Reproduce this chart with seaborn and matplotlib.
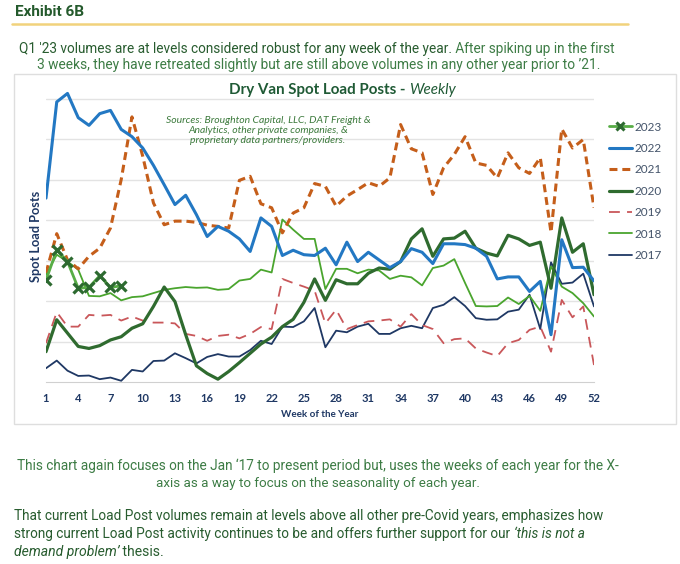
import matplotlib
matplotlib.use("Agg")
import numpy as np
import pandas as pd
import matplotlib.pyplot as plt
import seaborn as sns
from matplotlib.lines import Line2D
from matplotlib.patches import Rectangle

weeks = list(range(1, 53))
weeks23 = list(range(1, 9))

y2023 = [2.52, 3.27, 2.98, 2.32, 2.34, 2.63, 2.34, 2.38]
y2022 = [4.55, 6.93, 7.14, 6.54, 6.35, 6.64, 6.72, 6.25, 6.07, 5.79, 5.36, 4.88, 4.39, 4.62, 4.14, 3.60, 3.85,
         3.73, 3.54, 3.23, 4.06, 3.85, 3.13, 3.26, 3.15, 3.13, 3.31, 2.90, 3.46, 2.98, 3.21, 3.02, 2.83, 2.98,
         3.30, 3.21, 2.93, 3.42, 3.42, 3.40, 3.31, 3.11, 2.55, 2.60, 2.60, 2.24, 2.49, 1.17, 3.52, 2.83, 2.84, 2.50]
y2021 = [2.70, 3.67, 3.02, 2.80, 3.11, 3.31, 3.81, 5.01, 6.56, 5.59, 4.43, 3.89, 3.98, 3.98, 3.95, 3.88, 3.85,
         3.81, 4.99, 5.09, 4.41, 4.31, 3.69, 4.18, 4.31, 4.91, 4.84, 4.35, 4.60, 4.76, 4.93, 4.84, 5.05, 6.37,
         5.77, 5.67, 4.64, 5.30, 5.63, 6.07, 5.42, 5.36, 5.05, 5.67, 5.30, 5.16, 5.55, 3.70, 6.26, 5.79, 6.00, 4.31]
y2020 = [0.75, 1.54, 1.21, 0.88, 0.83, 0.90, 1.04, 1.12, 1.33, 1.44, 1.87, 2.35, 1.99, 1.17, 0.40, 0.21, 0.07,
         0.26, 0.48, 0.71, 0.94, 1.11, 1.37, 1.55, 1.97, 2.55, 2.02, 2.53, 2.43, 2.43, 2.69, 2.82, 2.79, 2.98,
         3.54, 3.79, 3.11, 3.54, 3.56, 3.73, 3.31, 3.19, 3.12, 3.63, 3.54, 3.38, 3.46, 2.32, 4.06, 3.21, 3.42, 2.16]
y2019 = [0.96, 1.73, 1.37, 1.37, 1.66, 1.64, 1.66, 1.52, 1.62, 1.52, 1.47, 1.47, 1.45, 1.19, 1.14, 1.02, 1.14,
         1.17, 1.08, 1.19, 1.36, 1.31, 2.55, 2.45, 2.36, 2.26, 1.45, 1.79, 1.31, 1.41, 1.50, 1.52, 1.55, 1.37,
         1.68, 1.41, 1.31, 0.96, 1.06, 1.08, 0.83, 0.73, 0.64, 0.96, 1.04, 1.29, 1.37, 0.75, 2.03, 1.60, 1.87, 0.42]
y2018 = [2.65, 3.15, 2.98, 2.78, 2.13, 2.12, 2.20, 2.02, 2.10, 2.12, 2.20, 2.28, 2.32, 2.35, 2.33, 2.34, 2.28,
         2.30, 2.51, 2.55, 2.78, 2.71, 4.02, 3.77, 3.54, 3.54, 2.30, 2.80, 2.80, 2.69, 2.78, 2.76, 2.55, 2.63,
         2.59, 2.39, 2.82, 2.88, 3.04, 2.45, 1.88, 1.87, 1.88, 2.09, 1.93, 2.13, 1.76, 2.86, 2.36, 2.20, 1.95, 1.62]
y2017 = [0.34, 0.53, 0.28, 0.15, 0.16, 0.07, 0.11, 0.03, 0.30, 0.26, 0.52, 0.53, 0.71, 0.59, 0.46, 0.62, 0.69,
         0.63, 0.63, 0.79, 1.02, 0.94, 1.37, 1.36, 1.50, 1.83, 0.86, 1.27, 1.23, 1.37, 1.44, 1.19, 1.19, 1.33,
         1.39, 1.33, 1.83, 1.91, 2.10, 1.88, 1.58, 1.54, 1.55, 1.74, 1.79, 2.16, 1.31, 2.96, 2.43, 2.46, 2.68, 1.87]

xtick_weeks = list(range(1, 53, 3))

sns.set_style("white")
plt.rcParams['font.family'] = ['Lato', 'DejaVu Sans']
BODY = ['Roboto', 'DejaVu Sans']
DARK = '#285c2f'
LIGHT = '#3d7c45'
NAVY = '#1f3864'

W, H = 680, 564
fig = plt.figure(figsize=(6.8, 5.64), dpi=100)
renderer = fig.canvas.get_renderer()


def px(x, y):
    return x / W, 1 - y / H


def fit_line(x0, x1, y, pieces, fs=10):
    # write pieces one after another from x0, sized so the line ends at x1
    texts = []
    for txt, kw in pieces:
        texts.append(fig.text(0, 1 - y / H, txt, ha='left', va='center', fontsize=fs,
                              family=BODY, **kw))
    total = sum(t.get_window_extent(renderer).width for t in texts)
    fs2 = fs * (x1 - x0) / total
    x = x0
    for t in texts:
        t.set_fontsize(fs2)
        t.set_x(x / W)
        x += t.get_window_extent(renderer).width


# chart frame
fig.patches.append(Rectangle(px(14, 424), (676 - 14) / W, (424 - 74) / H, transform=fig.transFigure,
                             facecolor='none', edgecolor='#dedede', lw=1.0, zorder=-5))
# yellow rule under heading
fig.add_artist(Line2D([12 / W, 628 / W], [1 - 24 / H] * 2, color='#f1d27c', lw=1.8))

ax = fig.add_axes([46 / W, 1 - 382 / H, (594 - 46) / W, (382 - 91) / H])

series = [
    ('2017', y2017, dict(color='#1f3864', lw=1.3)),
    ('2018', y2018, dict(color='#4aa52e', lw=1.3)),
    ('2019', y2019, dict(color='#c9575a', lw=1.3, linestyle=(0, (6, 4)))),
    ('2020', y2020, dict(color='#2f6b2f', lw=2.3)),
    ('2021', y2021, dict(color='#c55e1a', lw=2.2, linestyle=(0, (2.6, 1.6)))),
    ('2022', y2022, dict(color='#2378c3', lw=2.2)),
]
for name, vals, kw in series:
    sns.lineplot(x=weeks, y=vals, ax=ax, **kw)
sns.lineplot(x=weeks23, y=y2023, ax=ax, color='#58ad46', lw=2.0, marker='x', ms=7.5,
             mew=2.3, mec='#2d6a30')

ax.set_xlim(1, 52)
ax.set_ylim(0, 7.2)
ax.set_yticks(range(1, 8))
ax.set_yticklabels([])
ax.tick_params(axis='y', length=0)
ax.yaxis.grid(True, color='#e3e3e3', lw=1.0)
ax.set_axisbelow(True)
for s in ['top', 'right', 'left']:
    ax.spines[s].set_visible(False)
ax.spines['bottom'].set_color('#d0d0d0')
ax.set_xticks(xtick_weeks)
ax.set_xticks(weeks, minor=True)
ax.tick_params(axis='x', which='both', length=4, color='#bfbfbf', width=0.8,
               labelsize=8, labelcolor=NAVY, pad=4)
for lab in ax.get_xticklabels():
    lab.set_fontweight('bold')
ax.set_xlabel('Week of the Year', fontsize=7.1, fontweight='bold', color=NAVY, labelpad=4)
ax.set_ylabel('Spot Load Posts', fontsize=9.2, fontweight='bold', color=NAVY)
ax.yaxis.set_label_coords(-0.007, 0.5)
ax.patch.set_alpha(0)

# legend
handles = [Line2D([], [], color='#58ad46', lw=2.0, marker='x', ms=6, mew=2.2, mec='#2d6a30')]
for name, vals, kw in reversed(series):
    handles.append(Line2D([], [], **kw))
labels = ['2023', '2022', '2021', '2020', '2019', '2018', '2017']
fig.legend(handles, labels, loc='upper left', bbox_to_anchor=px(598, 111), frameon=False,
           fontsize=8.5, labelcolor='#44546a', handlelength=2.0, handletextpad=0.2,
           labelspacing=0.88)

# chart title and sources
fig.text(*px(409, 90.5), 'Dry Van Spot Load Posts - ', ha='right', va='center', fontsize=10.9,
         fontweight='bold', color='#1f5a35')
fig.text(*px(409, 90.5), 'Weekly', ha='left', va='center', fontsize=10.9, style='italic',
         color='#1f5a35')
fig.text(*px(268, 130.5), 'Sources: Broughton Capital, LLC, DAT Freight &\nAnalytics, other private companies, &\n'
         'proprietary data partners/providers.', ha='center', va='center', fontsize=7.5,
         style='italic', color='#3c7a3c', linespacing=1.2)

# page text
fig.text(*px(15, 11.5), 'Exhibit 6B', ha='left', va='center', fontsize=11, fontweight='bold',
         color='#245a2c', family=BODY)
fit_line(19, 617, 49, [("Q1 '23 volumes are at levels considered robust for any week of the year.",
                        dict(color=DARK)),
                       (' After spiking up in the first', dict(color=LIGHT))])
fit_line(37, 599, 65, [("3 weeks, they have retreated slightly but are still above volumes in any "
                        "other year prior to \u201921.", dict(color=LIGHT))])
fit_line(17, 620, 466, [("This chart again focuses on the Jan \u201817 to present period but, uses the "
                         "weeks of each year for the X-", dict(color=LIGHT))])
fit_line(156, 480, 484, [('axis as a way to focus on the seasonality of each year.', dict(color=LIGHT))])
fit_line(14, 602, 516, [('That current Load Post volumes remain at levels above all other pre-Covid '
                         'years, emphasizes how', dict(color=DARK))])
fit_line(14, 586, 534, [('strong current Load Post activity continues to be and offers further support '
                         'for our ', dict(color=DARK)),
                        ('\u2018this is not a', dict(color=DARK, style='italic'))])
fit_line(14, 164, 552, [('demand problem\u2019', dict(color=DARK, style='italic')),
                        (' thesis.', dict(color=DARK))])

fig.savefig('out.png', dpi=100, facecolor='white')
